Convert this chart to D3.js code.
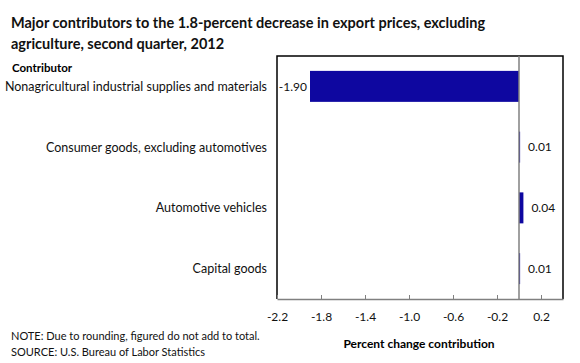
<!DOCTYPE html>
<html>
<head>
<meta charset="utf-8">
<script src="https://cdn.jsdelivr.net/npm/d3@7"></script>
<style>
  body { margin: 0; background: #fff; }
  svg { font-family: Lato, "Open Sans", sans-serif; }
</style>
</head>
<body>
<div id="chart"></div>
<script>
// Data
const categories = [
    'Nonagricultural industrial supplies and materials',
    'Consumer goods, excluding automotives',
    'Automotive vehicles',
    'Capital goods'
];
const values = [-1.90, 0.01, 0.04, 0.01];
const tickValues = [-2.2, -1.8, -1.4, -1.0, -0.6, -0.2, 0.2];

const W = 580, H = 363;
const plot = { left: 277, right: 563, top: 56, bottom: 299 };
const barColor = '#0e07a0';

const svg = d3.select('#chart')
    .append('svg')
    .attr('width', W)
    .attr('height', H);

// Title
const title = svg.append('text')
    .style('font-size', '14.5px')
    .style('font-weight', 'bold')
    .attr('fill', '#111');
title.append('tspan').attr('x', 11).attr('y', 28)
    .text('Major contributors to the 1.8-percent decrease in export prices, excluding');
title.append('tspan').attr('x', 11).attr('y', 49)
    .text('agriculture, second quarter, 2012');

svg.append('text')
    .attr('x', 12)
    .attr('y', 72)
    .style('font-size', '11.5px')
    .style('font-weight', 'bold')
    .text('Contributor');

// Scales
const x = d3.scaleLinear()
    .domain([-2.2, 0.4])
    .range([plot.left, plot.right]);

const y = d3.scaleBand()
    .domain(categories)
    .range([plot.top, plot.bottom])
    .paddingInner(0.49)
    .paddingOuter(0.245);

// Frame
svg.append('path')
    .attr('d', `M${plot.left},${plot.bottom}V${plot.top}H${plot.right}V${plot.bottom}`)
    .attr('fill', 'none')
    .attr('stroke', '#000')
    .attr('stroke-width', 1.5);

// Bottom axis (ticks pointing inward)
const xAxis = svg.append('g')
    .attr('transform', `translate(0,${plot.bottom})`)
    .call(d3.axisBottom(x)
        .tickValues(tickValues)
        .tickSize(-4)
        .tickPadding(13)
        .tickSizeOuter(0)
        .tickFormat(d3.format('.1f')));
xAxis.select('.domain').attr('stroke', '#808080').attr('stroke-width', 1.5);
xAxis.selectAll('.tick line').attr('stroke', '#808080');
xAxis.selectAll('.tick text')
    .style('font-size', '12px')
    .style('font-family', 'Lato, "Open Sans", sans-serif')
    .attr('fill', '#111')
    .text(d => d3.format('.1f')(d).replace('−', '-'));

// Bars
svg.selectAll('.bar')
    .data(values)
    .enter()
    .append('rect')
    .attr('class', 'bar')
    .attr('x', d => x(Math.min(0, d)))
    .attr('y', (d, i) => y(categories[i]))
    .attr('width', d => Math.max(1, Math.abs(x(d) - x(0))))
    .attr('height', y.bandwidth())
    .attr('fill', barColor);

// Zero line
svg.append('line')
    .attr('x1', x(0)).attr('x2', x(0))
    .attr('y1', plot.top).attr('y2', plot.bottom)
    .attr('stroke', '#808080')
    .attr('stroke-width', 1.5);

// Value labels
svg.selectAll('.val')
    .data(values)
    .enter()
    .append('text')
    .attr('class', 'val')
    .attr('x', d => d < 0 ? x(d) - 3 : x(d) + 8)
    .attr('y', (d, i) => y(categories[i]) + y.bandwidth() / 2)
    .attr('dy', '0.35em')
    .attr('text-anchor', d => d < 0 ? 'end' : 'start')
    .style('font-size', '12px')
    .attr('fill', '#111')
    .text(d => d3.format('.2f')(d).replace('−', '-'));

// Category labels
svg.selectAll('.cat')
    .data(categories)
    .enter()
    .append('text')
    .attr('class', 'cat')
    .attr('x', 267)
    .attr('y', d => y(d) + y.bandwidth() / 2)
    .attr('dy', '0.35em')
    .attr('text-anchor', 'end')
    .style('font-size', '12.5px')
    .attr('fill', '#111')
    .text(d => d);

// Axis title
svg.append('text')
    .attr('x', 419)
    .attr('y', 348)
    .attr('text-anchor', 'middle')
    .style('font-size', '12px')
    .style('font-weight', 'bold')
    .text('Percent change contribution');

// Notes
svg.append('text')
    .attr('x', 11)
    .attr('y', 340)
    .style('font-size', '11px')
    .attr('fill', '#111')
    .text('NOTE: Due to rounding, figured do not add to total.');
svg.append('text')
    .attr('x', 11)
    .attr('y', 356)
    .style('font-size', '11px')
    .attr('fill', '#111')
    .text('SOURCE: U.S. Bureau of Labor Statistics');
</script>
</body>
</html>
